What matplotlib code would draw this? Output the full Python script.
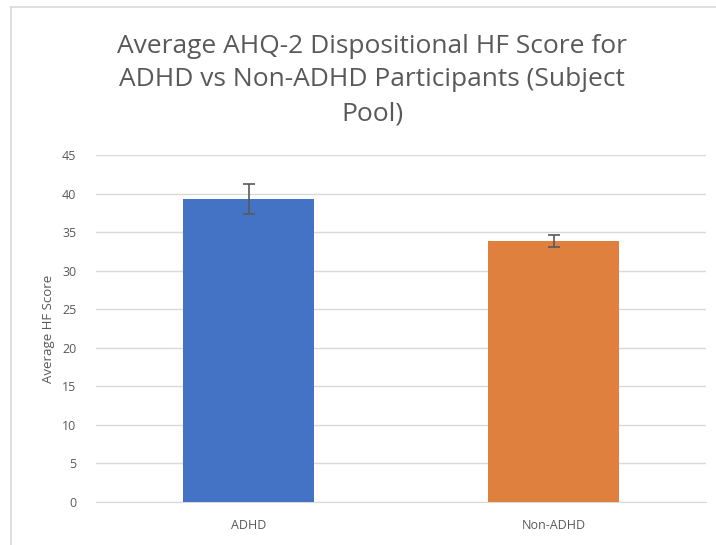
import matplotlib.pyplot as plt
from matplotlib.lines import Line2D

categories = ["ADHD", "Non-ADHD"]
means = [39.25, 33.85]
errors = [1.95, 0.75]
colors = ["#4472C4", "#E0803F"]
yticks = [0, 5, 10, 15, 20, 25, 30, 35, 40, 45]
title = "Average AHQ-2 Dispositional HF Score for\nADHD vs Non-ADHD Participants (Subject\nPool)"

plt.rcParams["font.family"] = ["Open Sans", "DejaVu Sans"]
W, H = 716, 545
fig = plt.figure(figsize=(W / 100, H / 100), dpi=100)
ax = fig.add_axes([96 / W, 1 - 502 / H, 610 / W, 347 / H])

x = range(len(categories))
ax.bar(x, means, width=0.43, color=colors, zorder=3)
ax.errorbar(x, means, yerr=errors, fmt="none", ecolor="#595959", elinewidth=1.2,
            capsize=4.5, capthick=1.2, zorder=4)

ax.set_xlim(-0.5, 1.5)
ax.set_ylim(0, 45)
ax.set_yticks(yticks)
ax.set_xticks(list(x))
ax.set_xticklabels(categories)
ax.grid(axis="y", color="#D9D9D9", linewidth=1, zorder=0)
ax.tick_params(length=0, labelsize=9, labelcolor="#595959")
ax.tick_params(axis="y", pad=14)
ax.tick_params(axis="x", pad=12)
for s in ["top", "right", "left"]:
    ax.spines[s].set_visible(False)
ax.spines["bottom"].set_color("#D9D9D9")
ax.set_ylabel("Average HF Score", fontsize=9.5, color="#595959", labelpad=5)

fig.text(372 / W, 1 - 80 / H, title, ha="center", va="center", fontsize=19,
         color="#595959", linespacing=1.45)

# chart frame
fig.add_artist(Line2D([11 / W, 11 / W], [0, 1 - 7 / H], color="#D9D9D9", lw=1.2,
                      transform=fig.transFigure))
fig.add_artist(Line2D([11 / W, 1], [1 - 7 / H, 1 - 7 / H], color="#D9D9D9", lw=1.2,
                      transform=fig.transFigure))

fig.savefig("out.png", dpi=100)
